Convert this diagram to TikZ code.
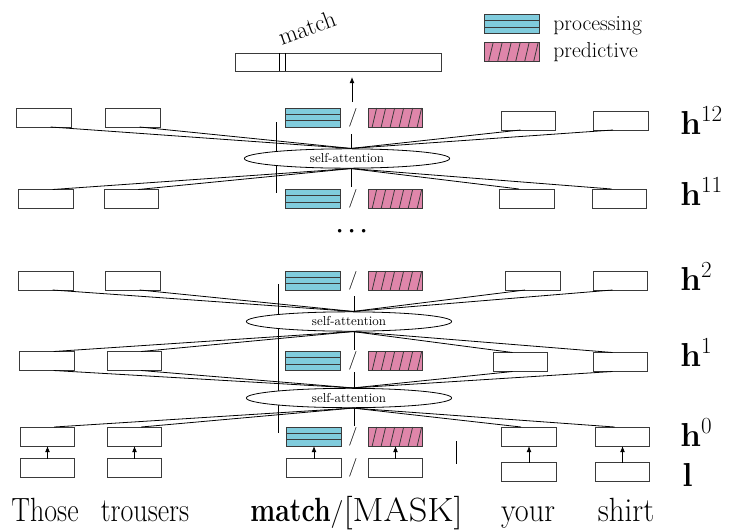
\documentclass[tikz,border=0pt]{standalone}
\usepackage{amsmath}
\usetikzlibrary{arrows.meta,shapes.geometric,calc}

\definecolor{procblue}{HTML}{80CCDD}
\definecolor{predpink}{HTML}{DF86AA}
\definecolor{boxline}{HTML}{3A3A3A}

% token box with three stripes
\newcommand\procbox[2]{%
  \node[procnode] (#1) at (#2) {};
  \draw[boxline] ($(#1.north west)!1/3!(#1.south west)$) -- ($(#1.north east)!1/3!(#1.south east)$);
  \draw[boxline] ($(#1.north west)!2/3!(#1.south west)$) -- ($(#1.north east)!2/3!(#1.south east)$);
}
% token box with slanted hatching
\newcommand\predbox[2]{%
  \node[prednode] (#1) at (#2) {};
  \foreach \k in {0,...,5}
    \draw[boxline] ([xshift={(4+9*\k)*0.75pt}]#1.south west) -- ++(4.5,-19);
}
% taller word text
\newcommand\tallw[2][1]{\scalebox{#1}[1.2]{#2}}

\begin{document}
\begin{tikzpicture}[x=0.75pt,y=-0.75pt,line width=0.6pt,>={Latex[length=4.5pt,width=3.6pt]},
  tok/.style={draw=boxline,line width=0.75pt,fill=white,minimum width=41pt,minimum height=14.25pt,inner sep=0pt,outer sep=0pt},
  procnode/.style={tok,fill=procblue},
  prednode/.style={tok,fill=predpink},
  attn/.style={ellipse,draw,fill=white,minimum width=154pt,minimum height=14.5pt,inner sep=0pt,font=\fontsize{9.7}{11}\selectfont},
  sep/.style={fill=white,inner sep=1pt,font=\fontsize{14}{16}\selectfont},
  layerlab/.style={anchor=base west,inner sep=0pt,font=\fontsize{23}{26}\selectfont},
  word/.style={anchor=base,inner sep=0pt,font=\fontsize{21}{24}\selectfont},
  legend/.style={anchor=base west,inner sep=0pt,font=\fontsize{16.2}{18}\selectfont}]
\useasboundingbox (0,0) rectangle (735,529);

% vertical strokes behind the attention blocks
\coordinate (va1) at (276,122); \coordinate (vb1) at (276,193);
\coordinate (va2) at (351,134); \coordinate (vb2) at (351,187);
\coordinate (va3) at (278,284); \coordinate (vb3) at (278,433);
\coordinate (va4) at (354,296); \coordinate (vb4) at (354,427);
\coordinate (va5) at (456,441); \coordinate (vb5) at (456,464);
\draw (va1) -- (vb1);
\draw (va2) -- (vb2);
\draw (va3) -- (vb3);
\draw (va4) -- (vb4);
\draw (va5) -- (vb5);

% output
\node[tok,minimum width=154.5pt,minimum height=13.5pt] (out) at (338,62) {};
\coordinate (cut1) at (279,53); \coordinate (cut2) at (285,53);
\draw (cut1) -- (cut1 |- out.south);
\draw (cut2) -- (cut2 |- out.south);
\node[rotate=20,inner sep=0pt,font=\fontsize{18}{20}\selectfont] (outw) at (307,28) {match};
\coordinate (foot) at (352,102);
\coordinate (tip) at (352,77);
\draw[->] (foot) -- (tip);

% legend
\procbox{lgp}{512,24}
\predbox{lgq}{512,52}
\node[legend] (lgpt) at (553,30) {processing};
\node[legend] (lgqt) at (553,57) {predictive};

% layer 12
\node[tok] (tho12) at (44,117.5) {};
\node[tok] (tro12) at (133,117.5) {};
\procbox{pro12}{313,117.5}
\node[sep] (s12) at (353,117.5) {/};
\predbox{pre12}{395.5,117.5}
\node[tok] (you12) at (528.5,120.5) {};
\node[tok] (shi12) at (621,120.5) {};

% layer 11
\node[tok] (tho11) at (46,199) {};
\node[tok] (tro11) at (131.5,199) {};
\procbox{pro11}{313,199}
\node[sep] (s11) at (353,199) {/};
\predbox{pre11}{395.5,199}
\node[tok] (you11) at (527,198.5) {};
\node[tok] (shi11) at (619.5,198.5) {};

\node[attn] (att1) at (347,158.5) {self-attention};
\foreach \b in {tho12,tro12} \draw ([xshift=5pt]\b.south) -- ([xshift=3pt]att1.north);
\foreach \b in {you12,shi12} \draw ([xshift=-6pt]\b.south) -- ([xshift=3pt]att1.north);
\foreach \b in {tho11,tro11} \draw ([xshift=5pt]\b.north) -- ([xshift=3pt]att1.south);
\foreach \b in {you11,shi11} \draw ([xshift=-6pt]\b.north) -- ([xshift=3pt]att1.south);

\node[inner sep=0pt,font=\fontsize{26}{28}\selectfont] (dots) at (352,232) {${\cdot}\mkern1.6mu{\cdot}\mkern1.6mu{\cdot}$};

% layer 2
\node[tok] (tho2) at (46,280.5) {};
\node[tok] (tro2) at (133,280.5) {};
\procbox{pro2}{313,280.5}
\node[sep] (s2) at (353,280.5) {/};
\predbox{pre2}{395.5,280.5}
\node[tok] (you2) at (533,280.5) {};
\node[tok] (shi2) at (620.5,280.5) {};

% layer 1
\node[tok] (tho1) at (47,361) {};
\node[tok] (tro1) at (134.5,361) {};
\procbox{pro1}{313,361}
\node[sep] (s1) at (353,361) {/};
\predbox{pre1}{395.5,361}
\node[tok] (you1) at (520.5,362) {};
\node[tok] (shi1) at (620.5,362) {};

% layer 0
\node[tok] (tho0) at (47.5,436.5) {};
\node[tok] (tro0) at (134.5,436.5) {};
\procbox{pro0}{314,436.5}
\node[sep] (s0) at (353,436.5) {/};
\predbox{pre0}{395.5,436.5}
\node[tok] (you0) at (529,436.5) {};
\node[tok] (shi0) at (622.5,436.5) {};

\node[attn] (att2) at (349,321.5) {self-attention};
\node[attn] (att3) at (349,398) {self-attention};
\foreach \b in {tho2,tro2} \draw ([xshift=5pt]\b.south) -- ([xshift=3pt]att2.north);
\foreach \b in {you2,shi2} \draw ([xshift=-6pt]\b.south) -- ([xshift=3pt]att2.north);
\foreach \b in {tho1,tro1} \draw ([xshift=5pt]\b.north) -- ([xshift=3pt]att2.south);
\foreach \b in {you1,shi1} \draw ([xshift=-6pt]\b.north) -- ([xshift=3pt]att2.south);
\foreach \b in {tho1,tro1} \draw ([xshift=5pt]\b.south) -- ([xshift=3pt]att3.north);
\foreach \b in {you1,shi1} \draw ([xshift=-6pt]\b.south) -- ([xshift=3pt]att3.north);
\foreach \b in {tho0,tro0} \draw ([xshift=5pt]\b.north) -- ([xshift=3pt]att3.south);
\foreach \b in {you0,shi0} \draw ([xshift=-6pt]\b.north) -- ([xshift=3pt]att3.south);

% input layer
\node[tok] (thol) at (47.5,468) {};
\node[tok] (trol) at (134.5,468) {};
\node[tok] (mat) at (314,468) {};
\node[sep] (sl) at (353,468) {/};
\node[tok] (msk) at (395.5,468) {};
\node[tok] (youl) at (529,472) {};
\node[tok] (shil) at (622.5,472) {};
\draw[->] (thol) -- (tho0);
\draw[->] (trol) -- (tro0);
\draw[->] (mat) -- (pro0);
\draw[->] (msk) -- (pre0);
\draw[->] (youl) -- (you0);
\draw[->] (shil) -- (shi0);

% layer names
\node[layerlab] (l12) at (680,134) {$\mathbf{h}^{12}$};
\node[layerlab] (l11) at (680,205) {$\mathbf{h}^{11}$};
\node[layerlab] (l2) at (680,290) {$\mathbf{h}^{2}$};
\node[layerlab] (l1) at (680,366) {$\mathbf{h}^{1}$};
\node[layerlab] (l0) at (680,446) {$\mathbf{h}^{0}$};
\node[layerlab,font=\fontsize{31}{33}\selectfont] (ll) at (682,486) {$\mathbf{l}$};

% words
\node[word] (w1) at (45,521) {\tallw{Those}};
\node[word] (w2) at (145,521) {\tallw{trousers}};
\node[word,anchor=base west] (w3) at (250,521) {\tallw[0.95]{\textbf{match}}/\tallw[1.3]{[MASK]}};
\node[word] (w4) at (528,521) {\tallw[1.08]{your}};
\node[word] (w5) at (626,521) {\tallw[1.1]{shirt}};
\end{tikzpicture}
\end{document}
